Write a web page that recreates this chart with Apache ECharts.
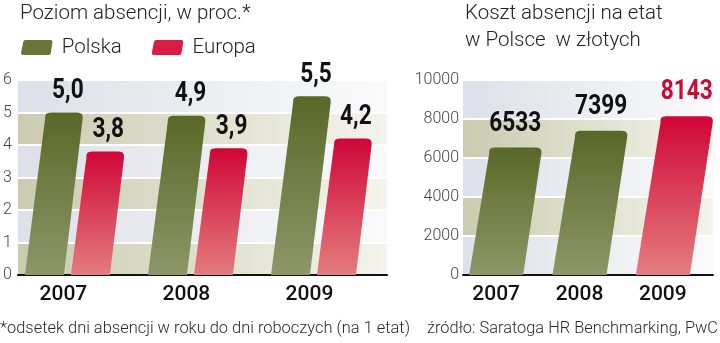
<!DOCTYPE html>
<html>
<head>
<meta charset="utf-8">
<script src="https://cdn.jsdelivr.net/npm/echarts@6/dist/echarts.min.js"></script>
<style>
  html, body { margin: 0; padding: 0; background: #ffffff; }
  #chart { width: 720px; height: 343px; }
</style>
</head>
<body>
<div id="chart"></div>
<script>
// ---- data ----
const years = ['2007', '2008', '2009'];
const polska = [5.0, 4.9, 5.5];
const europa = [3.8, 3.9, 4.2];
const koszt = [6533, 7399, 8143];
const kosztHighlight = '2009';
const leftTicks = { min: 0, max: 6, interval: 1 };
const rightTicks = { min: 0, max: 10000, interval: 2000 };
const titleLeft = 'Poziom absencji, w proc.*';
const titleRight = 'Koszt absencji na etat\nw Polsce  w złotych';
const footLeft = '*odsetek dni absencji w roku do dni roboczych (na 1 etat)';
const footRight = 'źródło: Saratoga HR Benchmarking, PwC';

// ---- styles ----
const LG = echarts.graphic.LinearGradient;
const oliveGrad = () => new LG(0, 0, 0, 1, [{ offset: 0, color: '#596828' }, { offset: 1, color: '#8d9768' }]);
const redGrad = () => new LG(0, 0, 0, 1, [{ offset: 0, color: '#d00637' }, { offset: 1, color: '#e47d7e' }]);
const beigeBand = new LG(0, 0, 1, 0, [{ offset: 0, color: '#cbcbb1' }, { offset: 1, color: '#f4f4ec' }]);
const grayBand = new LG(0, 0, 1, 0, [{ offset: 0, color: '#dde0e8' }, { offset: 1, color: '#fafafb' }]);
const numFont = "bold 27px Roboto, sans-serif";
const footFont = "300 17px Roboto, sans-serif";

// horizontal squeeze for condensed-looking text
const measureCtx = document.createElement('canvas').getContext('2d');
function fitScale(text, font, targetWidth) {
  measureCtx.font = font;
  return targetWidth / measureCtx.measureText(text).width;
}

function barPath(x0, yb, w, s, yt, r) {
  const k = s / Math.max(1, (yb - yt));
  const trx = x0 + w + s, tlx = x0 + s;
  return 'M' + x0 + ',' + yb +
    ' L' + (x0 + w) + ',' + yb +
    ' L' + (trx - k * r) + ',' + (yt + r) +
    ' Q' + trx + ',' + yt + ' ' + (trx - r) + ',' + yt +
    ' L' + (tlx + r) + ',' + yt +
    ' Q' + tlx + ',' + yt + ' ' + (tlx + k * r) + ',' + (yt + r) +
    ' Z';
}

function makeRender(opts) {
  return function (params, api) {
    const cat = api.value(0), val = api.value(1);
    const base = api.coord([cat, 0]);
    const top = api.coord([cat, val]);
    const w = opts.width;
    const cx = base[0] + opts.offset;
    const yb = base[1], yt = top[1];
    const s = opts.skew * (yb - yt);
    const x0 = cx - w / 2;
    const isRed = opts.redIf ? opts.redIf(params.dataIndex) : opts.red;
    const txt = opts.fmt(val);
    return {
      type: 'group',
      children: [
        {
          type: 'path',
          shape: { pathData: barPath(x0, yb, w, s, yt, 6) },
          style: { fill: isRed ? redGrad() : oliveGrad() }
        },
        {
          type: 'text',
          x: cx + s + opts.labelDx,
          y: yt - opts.labelDy,
          scaleX: 0.84,
          style: {
            text: txt,
            fill: (isRed && opts.redLabel) ? '#c60c37' : '#111111',
            font: numFont,
            textAlign: 'center',
            textVerticalAlign: 'bottom'
          }
        }
      ]
    };
  };
}

const fmtPct = v => v.toFixed(1).replace('.', ',');
const fmtInt = v => String(v);

const yLabel = { fontSize: 16, fontWeight: 300, color: '#444', fontFamily: 'Roboto', formatter: v => String(v) };
const xLabel = { fontSize: 21, fontWeight: 500, color: '#111', fontFamily: 'Roboto' };

const option = {
  animation: false,
  backgroundColor: '#ffffff',
  title: [
    { text: titleLeft, left: 20, top: 0, padding: 0,
      textStyle: { fontSize: 20.5, fontWeight: 300, color: '#222', fontFamily: 'Roboto', lineHeight: 27 } },
    { text: titleRight, left: 465, top: 0, padding: 0,
      textStyle: { fontSize: 20.5, fontWeight: 300, color: '#222', fontFamily: 'Roboto', lineHeight: 27 } }
  ],
  legend: {
    left: 21, top: 37, padding: 0,
    itemWidth: 32, itemHeight: 15, itemGap: 30,
    icon: 'path://M2.5,15 L28,15 Q30,15 30.3,13 L32,2 Q32,0 30,0 L5,0 Q3,0 2.7,2 L0.5,13 Q0.5,15 2.5,15 Z',
    textStyle: { fontSize: 20.5, fontWeight: 300, color: '#222', fontFamily: 'Roboto', padding: [0, 0, 0, 4] },
    data: [
      { name: 'Polska', itemStyle: { color: '#6a7537' } },
      { name: 'Europa', itemStyle: { color: '#d81d45' } }
    ]
  },
  graphic: [
    { type: 'text', x: 0, y: 320, scaleX: fitScale(footLeft, footFont, 410),
      style: { text: footLeft, font: footFont, fill: '#2a2a2a' } },
    { type: 'text', x: 427, y: 320, scaleX: fitScale(footRight, footFont, 291),
      style: { text: footRight, font: footFont, fill: '#2a2a2a' } }
  ],
  grid: [
    { left: 15, width: 372, top: 80, bottom: 68 },
    { left: 463, width: 250, top: 80, bottom: 68 }
  ],
  xAxis: [
    { type: 'category', gridIndex: 0, data: years,
      axisLine: { lineStyle: { color: '#111', width: 2 } }, axisTick: { show: false },
      axisLabel: Object.assign({ margin: 9, padding: [0, 32, 0, 0] }, xLabel) },
    { type: 'category', gridIndex: 1, data: years,
      axisLine: { lineStyle: { color: '#111', width: 2 } }, axisTick: { show: false },
      axisLabel: Object.assign({ margin: 9, padding: [0, 17, 0, 0] }, xLabel) }
  ],
  yAxis: [
    { type: 'value', gridIndex: 0, min: leftTicks.min, max: leftTicks.max, interval: leftTicks.interval,
      axisLine: { show: false }, axisTick: { show: false },
      axisLabel: Object.assign({ margin: 6 }, yLabel),
      splitLine: { lineStyle: { color: '#ffffff', width: 2 } },
      splitArea: { show: true, areaStyle: { color: [beigeBand, grayBand] } } },
    { type: 'value', gridIndex: 1, min: rightTicks.min, max: rightTicks.max, interval: rightTicks.interval,
      axisLine: { show: false }, axisTick: { show: false },
      axisLabel: Object.assign({ margin: 4 }, yLabel),
      splitLine: { lineStyle: { color: '#ffffff', width: 2 } },
      splitArea: { show: true, areaStyle: { color: [grayBand, beigeBand] } } }
  ],
  series: [
    { name: 'Polska', type: 'custom', xAxisIndex: 0, yAxisIndex: 0,
      itemStyle: { color: '#6a7537' },
      renderItem: makeRender({ width: 39, offset: -35, skew: 0.12, red: false, fmt: fmtPct, labelDx: 4, labelDy: 8 }),
      data: polska.map((v, i) => [i, v]) },
    { name: 'Europa', type: 'custom', xAxisIndex: 0, yAxisIndex: 0,
      itemStyle: { color: '#d81d45' },
      renderItem: makeRender({ width: 39, offset: 11, skew: 0.12, red: true, fmt: fmtPct, labelDx: 3, labelDy: 8 }),
      data: europa.map((v, i) => [i, v]) },
    { name: 'Koszt', type: 'custom', xAxisIndex: 1, yAxisIndex: 1,
      itemStyle: { color: '#6a7537' },
      renderItem: makeRender({ width: 54, offset: -8.5, skew: 0.15, redLabel: true,
        redIf: i => years[i] === kosztHighlight, fmt: fmtInt, labelDx: 0, labelDy: 10 }),
      data: koszt.map((v, i) => [i, v]) }
  ]
};

const chart = echarts.init(document.getElementById('chart'), null, { renderer: 'canvas' });
chart.setOption(option);
</script>
</body>
</html>
